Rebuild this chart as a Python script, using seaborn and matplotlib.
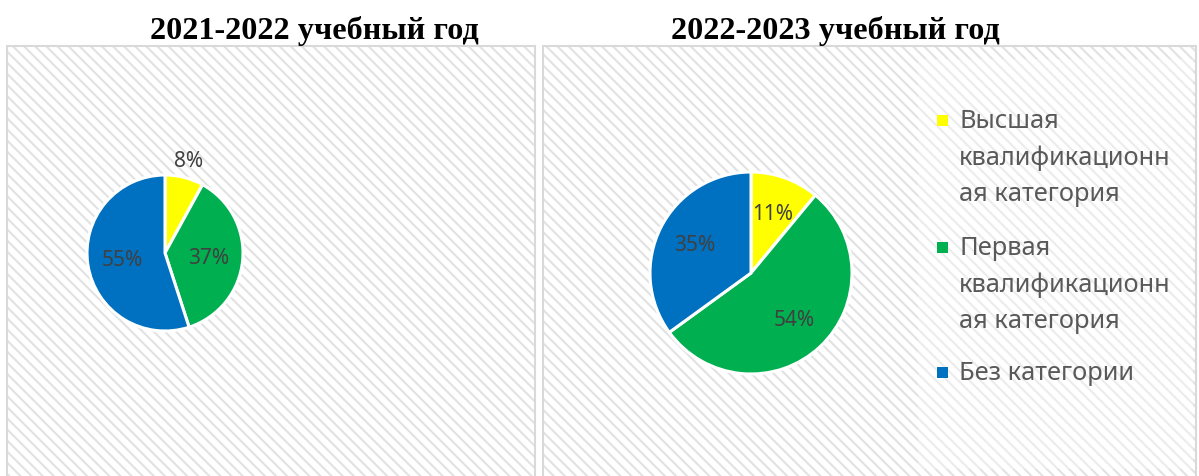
import numpy as np
import matplotlib
matplotlib.use("Agg")
import matplotlib.pyplot as plt
from matplotlib.patches import Rectangle
import seaborn as sns

# data
categories = ["Высшая\nквалификационн\nая категория",
              "Первая\nквалификационн\nая категория",
              "Без категории"]
titles = ["2021-2022 учебный год", "2022-2023 учебный год"]
shares_2122 = [8, 37, 55]
shares_2223 = [11, 54, 35]
colors = ["#FFFF00", "#00B050", "#0070C0"]

W, H = 1199, 477

sns.set_theme(style="white")
plt.rcParams["font.family"] = ["Noto Sans", "DejaVu Sans"]
plt.rcParams["hatch.linewidth"] = 1.5

fig = plt.figure(figsize=(W / 100, H / 100), dpi=100)
fig.patch.set_facecolor("white")


def fx(x):
    return x / W


def fy(y):
    return 1 - y / H


def panel(x0, x1, y0, y1):
    fig.patches.append(Rectangle((fx(x0), fy(y1)), fx(x1) - fx(x0), fy(y0) - fy(y1),
                                 transform=fig.transFigure, facecolor="white",
                                 edgecolor="#e2e2e2", hatch="\\\\\\", lw=0, zorder=0))
    fig.patches.append(Rectangle((fx(x0), fy(y1)), fx(x1) - fx(x0), fy(y0) - fy(y1),
                                 transform=fig.transFigure, facecolor="none",
                                 edgecolor="#d9d9d9", lw=1.5, zorder=1))


panel(7, 535, 47, 480)
panel(543, 1196, 47, 480)
# lighter area behind the legend
fig.patches.append(Rectangle((fx(918), fy(470)), fx(1193) - fx(918), fy(60) - fy(470),
                             transform=fig.transFigure, facecolor="white", alpha=0.35,
                             lw=0, zorder=1))

fig.text(fx(314), fy(31), titles[0], ha="center", va="center", fontsize=23.2,
         fontweight="bold", family=["Liberation Serif", "DejaVu Serif"], color="black")
fig.text(fx(835), fy(31), titles[1], ha="center", va="center", fontsize=23.2,
         fontweight="bold", family=["Liberation Serif", "DejaVu Serif"], color="black")


def draw_pie(cx, cy, r, values, pctdist, outside=()):
    side = 2.6 * r
    ax = fig.add_axes([fx(cx - side / 2), fy(cy + side / 2), side / W, side / H])
    ax.set_zorder(3)
    wedges, _, autotexts = ax.pie(values, colors=colors, startangle=90, counterclock=False,
                                  autopct="%1.0f%%", pctdistance=pctdist,
                                  wedgeprops=dict(edgecolor="white", linewidth=2.2),
                                  textprops=dict(fontsize=15, color="#404040"))
    for i in outside:
        w = wedges[i]
        ang = np.deg2rad((w.theta1 + w.theta2) / 2)
        autotexts[i].set_position((1.22 * np.cos(ang), 1.22 * np.sin(ang)))
    ax.set_xlim(-1.3, 1.3)
    ax.set_ylim(-1.3, 1.3)
    ax.set_aspect("equal")
    ax.axis("off")
    return ax


draw_pie(165, 254, 78, shares_2122, 0.56, outside=(0,))
draw_pie(751, 274, 101, shares_2223, 0.63)

# legend
entry_tops = [112, 239, 364]
for lab, col, yt in zip(categories, colors, entry_tops):
    fig.patches.append(Rectangle((fx(937), fy(yt + 15)), 11 / W, 11 / H,
                                 transform=fig.transFigure, facecolor=col,
                                 edgecolor="none", zorder=4))
    fig.text(fx(959), fy(yt - 3), lab, ha="left", va="top", fontsize=18.3,
             color="#595959", linespacing=1.58, zorder=4)

fig.savefig("out.png", dpi=100, facecolor="white")
